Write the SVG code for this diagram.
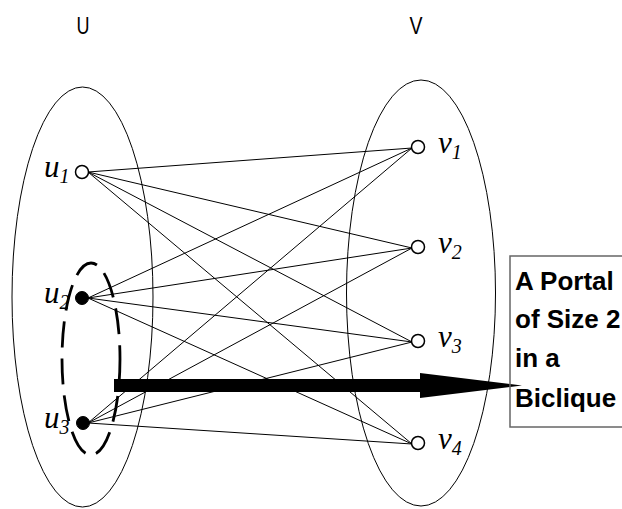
<svg xmlns="http://www.w3.org/2000/svg" width="622" height="509" viewBox="0 0 622 509">
<style>
.set{fill:none;stroke:#000;stroke-width:1}
.edge{stroke:#000;stroke-width:1;fill:none}
.open{fill:#fff;stroke:#000;stroke-width:1.5}
.full{fill:#000;stroke:#000;stroke-width:1}
.lab{font-family:"Liberation Serif","Times New Roman",serif;font-style:italic;font-size:31px;fill:#000}
.sub{font-size:20px}
.head{font-family:"Liberation Sans",Arial,sans-serif;font-size:24px;fill:#000}
.box{font-family:"Liberation Sans",Arial,sans-serif;font-weight:bold;font-size:26px;fill:#000}
</style>
<rect width="622" height="509" fill="#fff"/>
<g id="setU"><ellipse class="set" cx="82.5" cy="297" rx="70.5" ry="210"/><text class="head" x="83" y="34" text-anchor="middle" textLength="13" lengthAdjust="spacingAndGlyphs">U</text></g>
<g id="setV"><ellipse class="set" cx="421" cy="293" rx="74.5" ry="213"/><text class="head" x="416" y="34" text-anchor="middle" textLength="13" lengthAdjust="spacingAndGlyphs">V</text></g>
<g id="connectors">
<line class="edge" x1="88" y1="172" x2="412" y2="148"/>
<line class="edge" x1="88" y1="172" x2="412" y2="248"/>
<line class="edge" x1="88" y1="172" x2="412" y2="342"/>
<line class="edge" x1="88" y1="172" x2="412" y2="444"/>
<line class="edge" x1="88" y1="298" x2="412" y2="148"/>
<line class="edge" x1="88" y1="298" x2="412" y2="248"/>
<line class="edge" x1="88" y1="298" x2="412" y2="342"/>
<line class="edge" x1="88" y1="298" x2="412" y2="444"/>
<line class="edge" x1="88" y1="423" x2="412" y2="148"/>
<line class="edge" x1="88" y1="423" x2="412" y2="248"/>
<line class="edge" x1="88" y1="423" x2="412" y2="342"/>
<line class="edge" x1="88" y1="423" x2="412" y2="444"/>
</g>
<g id="portal"><ellipse cx="91" cy="359" rx="29" ry="96" fill="none" stroke="#000" stroke-width="2.8" stroke-dasharray="26 11"/></g>
<g id="u1"><circle class="open" cx="82" cy="172" r="6.5"/><text class="lab" x="44" y="177">u<tspan class="sub" dy="6">1</tspan></text></g>
<g id="u2"><circle class="full" cx="82" cy="298" r="6.5"/><text class="lab" x="44" y="303">u<tspan class="sub" dy="6">2</tspan></text></g>
<g id="u3"><circle class="full" cx="83" cy="423" r="6.5"/><text class="lab" x="44" y="428">u<tspan class="sub" dy="6">3</tspan></text></g>
<g id="v1"><circle class="open" cx="418" cy="147" r="6.5"/><text class="lab" x="438" y="153">v<tspan class="sub" dy="6">1</tspan></text></g>
<g id="v2"><circle class="open" cx="418" cy="247" r="6.5"/><text class="lab" x="438" y="253">v<tspan class="sub" dy="6">2</tspan></text></g>
<g id="v3"><circle class="open" cx="418" cy="341" r="6.5"/><text class="lab" x="438" y="347">v<tspan class="sub" dy="6">3</tspan></text></g>
<g id="v4"><circle class="open" cx="418" cy="443" r="6.5"/><text class="lab" x="438" y="449">v<tspan class="sub" dy="6">4</tspan></text></g>
<g id="arrow"><polygon points="114,379 420,379 420,373 522,385.5 420,398 420,392 114,392" fill="#000"/></g>
<g id="label">
<rect x="510" y="256" width="120" height="171" fill="none" stroke="#666" stroke-width="1.5"/>
<text class="box" x="515" y="290">A Portal</text>
<text class="box" x="515" y="328">of Size 2</text>
<text class="box" x="515" y="367">in a</text>
<text class="box" x="515" y="407">Biclique</text>
</g>
</svg>
